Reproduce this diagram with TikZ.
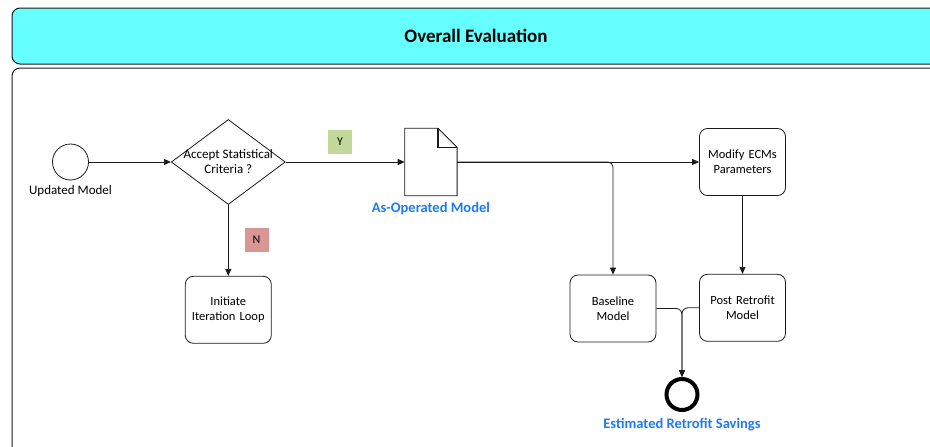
\documentclass[tikz,border=0pt]{standalone}
\usepackage{fontspec}
\setmainfont{Carlito}
\usetikzlibrary{arrows.meta,positioning,shapes.geometric}
\definecolor{lane}{HTML}{66FFFF}
\definecolor{yesgreen}{HTML}{C4D79B}
\definecolor{nored}{HTML}{DA9694}
\definecolor{linkblue}{HTML}{1F7AF0}
\definecolor{ink}{HTML}{1A1A1A}
\tikzset{
  task/.style={draw=ink,rounded corners=8pt,minimum width=86pt,minimum height=67pt,
               text width=80pt,align=center,inner sep=0pt,line width=0.8pt,
               font=\fontsize{12.5}{15}\selectfont},
  gate/.style={draw=ink,diamond,minimum width=114pt,minimum height=85pt,
               inner sep=0pt,line width=0.8pt},
  startev/.style={draw=ink,circle,minimum size=36pt,inner sep=0pt,line width=0.8pt},
  endev/.style={draw=black,circle,minimum size=31pt,inner sep=0pt,line width=4pt},
  flag/.style={minimum width=24pt,minimum height=24pt,inner sep=0pt,
               font=\fontsize{12}{14}\selectfont},
  caption/.style={font=\bfseries\fontsize{14.5}{17}\selectfont,text=linkblue,
                  label distance=3pt},
  plain/.style={font=\fontsize{13}{15}\selectfont},
  arrow/.style={-{Triangle[length=7pt,width=6pt]},line width=0.8pt,draw=ink}
}
\begin{document}
\begin{tikzpicture}[x=1pt,y=-1pt]
\useasboundingbox (0,0) rectangle (930,447);
\begin{scope}
\clip (0,0) rectangle (930,447);
% pool
\draw[ink,fill=lane,line width=1pt,rounded corners=8pt] (12,8) rectangle (960,64);
\draw[ink,line width=1pt,rounded corners=8pt] (12,68) rectangle (960,480);
\end{scope}
\node[font=\bfseries\fontsize{19}{22}\selectfont] (title) at (476,36) {Overall Evaluation};

% nodes
\node[startev,label={[plain,label distance=2pt]below:Updated Model}] (upd) at (70.5,162) {};
\node[gate,right=82pt of upd] (acc) {};
\node[plain,align=center] (acctext) at (acc.center) {Accept Statistical\\Criteria ?};
\node[minimum width=52pt,minimum height=67pt,inner sep=0pt,right=119pt of acc,
      label={[caption]below:As-Operated Model}] (doc) {};
\draw[ink,line width=0.8pt] (doc.north west) -- ([xshift=-19pt]doc.north east)
  -- ([yshift=-19pt]doc.north east) -- (doc.south east) -- (doc.south west) -- cycle;
\draw[ink,line width=1.3pt] ([xshift=-19pt]doc.north east) |- ([yshift=-19pt]doc.north east);
\node[task,right=242pt of doc] (mod) {Modify ECMs\\Parameters};
\node[task,below=78pt of mod] (post) {Post Retrofit\\Model};
\node[task] (base) at (613,308.5) {Baseline\\Model};
\node[task,below=71pt of acc] (init) {Initiate\\Iteration Loop};
\node[endev,label={[caption]below:Estimated Retrofit Savings}] (save) at (682,394.5) {};
\node[flag,fill=yesgreen] (yes) at (340,142) {Y};
\node[flag,fill=nored] (no) at (256.5,239.5) {N};

% connectors
\draw[arrow] (upd) -- (acc);
\draw[arrow] (acc) -- (doc);
\draw[arrow] (acc) -- (init);
\draw[arrow] (doc) -- (mod);
\draw[arrow,rounded corners=5pt] (doc.east) -| (base.north);
\draw[arrow] (mod) -- (post);
\draw[arrow,rounded corners=6pt] (base.east) -| (save.north);
\draw[arrow,rounded corners=6pt] (post.west) -| (save.north);
\end{tikzpicture}
\end{document}
